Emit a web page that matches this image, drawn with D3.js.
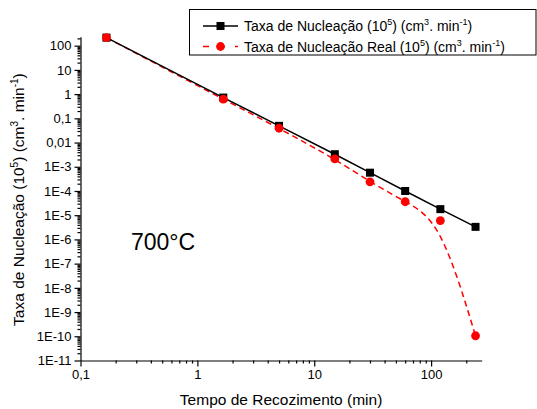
<!DOCTYPE html>
<html><head><meta charset="utf-8">
<script src="https://cdn.jsdelivr.net/npm/d3@7/dist/d3.min.js"></script>
<style>
body{margin:0;background:#fff;}
text{font-family:"Liberation Sans",Arial,sans-serif;}
</style></head>
<body><svg id="c" width="537" height="409"></svg>
<script>
const times = [0.1667, 1.667, 5, 15, 30, 60, 120, 240];
const taxa = [215, 0.72, 0.049, 0.0033, 5.7e-4, 1.0e-4, 1.78e-5, 3.3e-6];
const taxaReal = [215, 0.62, 0.039, 0.0021, 2.4e-4, 3.6e-5, 6.0e-6, 1.05e-10];
const yTickVals = [100, 10, 1, 0.1, 0.01, 1e-3, 1e-4, 1e-5, 1e-6, 1e-7, 1e-8, 1e-9, 1e-10, 1e-11];
const yTickLabels = ["100","10","1","0,1","0,01","1E-3","1E-4","1E-5","1E-6","1E-7","1E-8","1E-9","1E-10","1E-11"];
const xTickVals = [0.1, 1, 10, 100];
const xTickLabels = ["0,1","1","10","100"];
const seriesNames = ["Taxa de Nucleação", "Taxa de Nucleação Real"];

const svg = d3.select("#c");
const L = 80.5, R = 481.7, T = 36.7, B = 360.5;
const x = d3.scaleLog().domain([0.1, 271]).range([L, R]);
const y = d3.scaleLog().domain([1e-11, 235]).range([B, T]);

// minor ticks
const xMinor = [];
for (let d = 0.1; d < 300; d *= 10) for (let k = 2; k <= 9; k++) { const v = d * k; if (v <= 271) xMinor.push(v); }
const yMinor = [];
for (let e = -11; e <= 2; e++) for (let k = 2; k <= 9; k++) { const v = k * Math.pow(10, e); if (v <= 235) yMinor.push(v); }

const gx = svg.append("g").attr("transform", `translate(0,${B})`);
gx.call(d3.axisBottom(x).tickValues(xMinor).tickSize(3).tickFormat(""));
gx.call(g => g.select(".domain").remove());
const gx2 = svg.append("g").attr("transform", `translate(0,${B})`)
  .call(d3.axisBottom(x).tickValues(xTickVals).tickSize(6).tickSizeOuter(0).tickPadding(3)
    .tickFormat((d, i) => xTickLabels[i]));
gx2.selectAll("text").attr("font-size", 13).attr("fill", "#000");

const gy = svg.append("g").attr("transform", `translate(${L},0)`);
gy.call(d3.axisLeft(y).tickValues(yMinor).tickSize(3).tickFormat(""));
gy.call(g => g.select(".domain").remove());
const gy2 = svg.append("g").attr("transform", `translate(${L},0)`)
  .call(d3.axisLeft(y).tickValues(yTickVals).tickSize(6).tickSizeOuter(0).tickPadding(3)
    .tickFormat((d, i) => yTickLabels[i]));
gy2.selectAll("text").attr("font-size", 13).attr("fill", "#000");
svg.selectAll(".domain, .tick line").attr("stroke", "#000").attr("stroke-width", 1.2);

const pts = times.map((t, i) => [t, taxa[i]]);
const ptsR = times.map((t, i) => [t, taxaReal[i]]);

svg.append("path").datum(ptsR)
  .attr("d", d3.line().x(d => x(d[0])).y(d => y(d[1])).curve(d3.curveBasis))
  .attr("fill", "none").attr("stroke", "#ff0000").attr("stroke-width", 1.5).attr("stroke-dasharray", "6,4");
svg.append("path").datum(pts)
  .attr("d", d3.line().x(d => x(d[0])).y(d => y(d[1])))
  .attr("fill", "none").attr("stroke", "#000").attr("stroke-width", 1.5);

svg.selectAll(".sq").data(pts).enter().append("rect")
  .attr("x", d => x(d[0]) - 4).attr("y", d => y(d[1]) - 4).attr("width", 8).attr("height", 8).attr("fill", "#000");
svg.selectAll(".ci").data(ptsR).enter().append("circle")
  .attr("cx", d => x(d[0])).attr("cy", d => y(d[1])).attr("r", 4.4).attr("fill", "#ff0000");

// legend
const lg = svg.append("g");
lg.append("rect").attr("x", 189.5).attr("y", 9.5).attr("width", 346.5).attr("height", 45.5)
  .attr("fill", "#fff").attr("stroke", "#000").attr("stroke-width", 1);
function legText(yy, name) {
  const t = lg.append("text").attr("x", 244).attr("y", yy + 5).attr("font-size", 14).attr("fill", "#000");
  t.append("tspan").text(name + " (10");
  t.append("tspan").attr("font-size", 9).attr("dy", -6).text("5");
  t.append("tspan").attr("dy", 6).text(") (cm");
  t.append("tspan").attr("font-size", 9).attr("dy", -6).text("3");
  t.append("tspan").attr("dy", 6).text(". min");
  t.append("tspan").attr("font-size", 9).attr("dy", -6).text("-1");
  t.append("tspan").attr("dy", 6).text(")");
}
lg.append("line").attr("x1", 203).attr("x2", 238).attr("y1", 26).attr("y2", 26).attr("stroke", "#000").attr("stroke-width", 1.5);
lg.append("rect").attr("x", 216.5).attr("y", 22).attr("width", 8).attr("height", 8).attr("fill", "#000");
legText(26, seriesNames[0]);
lg.append("line").attr("x1", 203).attr("x2", 238).attr("y1", 46.5).attr("y2", 46.5).attr("stroke", "#ff0000").attr("stroke-width", 1.5).attr("stroke-dasharray", "6,10");
lg.append("circle").attr("cx", 220.5).attr("cy", 46.5).attr("r", 4.4).attr("fill", "#ff0000");
legText(46.5, seriesNames[1]);

// annotation
svg.append("text").attr("x", 131).attr("y", 250).attr("font-size", 23).attr("fill", "#000").text("700°C");

// axis titles
svg.append("text").attr("x", (L + R) / 2).attr("y", 405).attr("text-anchor", "middle")
  .attr("font-size", 15.5).attr("fill", "#000").text("Tempo de Recozimento (min)");
const yt = svg.append("text").attr("transform", `translate(24,${(T + B) / 2 + 1}) rotate(-90)`)
  .attr("text-anchor", "middle").attr("font-size", 15.5).attr("fill", "#000");
yt.append("tspan").text("Taxa de Nucleação (10");
yt.append("tspan").attr("font-size", 10).attr("dy", -6).text("5");
yt.append("tspan").attr("dy", 6).text(") (cm");
yt.append("tspan").attr("font-size", 10).attr("dy", -6).text("3");
yt.append("tspan").attr("dy", 6).text(". min");
yt.append("tspan").attr("font-size", 10).attr("dy", -6).text("-1");
yt.append("tspan").attr("dy", 6).text(")");
</script></body></html>
